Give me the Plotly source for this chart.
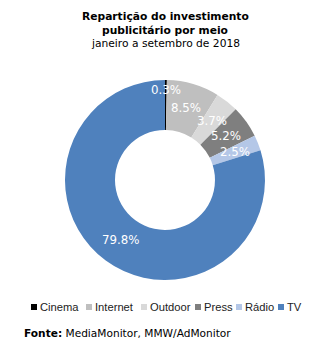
import math
import plotly.graph_objects as go

# Advertising investment share by medium, Jan-Sep 2018
media = ["Cinema", "Internet", "Outdoor", "Press", "Rádio", "TV"]
shares = [0.3, 8.5, 3.7, 5.2, 2.5, 79.8]
colors = ["#000000", "#bfbfbf", "#d9d9d9", "#7f7f7f", "#b4c7e7", "#4f81bd"]

W, H = 329, 355
# donut geometry in pixels
CX, CY, R_OUT, HOLE = 165, 180, 100, 0.5

fig = go.Figure()
fig.add_trace(go.Pie(
    labels=media,
    values=shares,
    marker=dict(colors=colors, line=dict(width=0)),
    hole=HOLE,
    sort=False,
    direction="clockwise",
    rotation=0,
    textinfo="none",
    showlegend=False,
    domain=dict(x=[(CX - R_OUT) / W, (CX + R_OUT) / W],
                y=[(H - CY - R_OUT) / H, (H - CY + R_OUT) / H]),
))

# value labels placed at the angular midpoint of each slice
total = sum(shares)
mid_r = R_OUT * (1 + HOLE) / 2
label_r = {"Cinema": R_OUT * 0.9}
cum = 0.0
annotations = []
for name, v in zip(media, shares):
    theta = 2 * math.pi * (cum + v / 2) / total
    cum += v
    r = label_r.get(name, mid_r)
    px = CX + r * math.sin(theta)
    py = CY - r * math.cos(theta)
    annotations.append(dict(
        x=px / W, y=1 - py / H, xref="paper", yref="paper",
        text=f"{v:.1f}%", showarrow=False,
        font=dict(family="DejaVu Sans", size=11.8, color="white"),
        xanchor="center", yanchor="middle",
    ))

# title block
title_lines = [
    ("<b>Repartição do investimento</b>", 16.5),
    ("<b>publicitário por meio</b>", 30.5),
    ("janeiro a setembro de 2018", 43.5),
]
for txt, ypx in title_lines:
    annotations.append(dict(
        x=165 / W, y=1 - ypx / H, xref="paper", yref="paper",
        text=txt, showarrow=False,
        font=dict(family="DejaVu Sans", size=10.7, color="black"),
        xanchor="center", yanchor="middle",
    ))

# custom legend row
legend_x = [31, 86, 141, 195, 236, 278]
legend_y = 307
shapes = []
for name, col, lx in zip(media, colors, legend_x):
    shapes.append(dict(
        type="rect", xref="paper", yref="paper",
        x0=lx / W, x1=(lx + 6) / W,
        y0=1 - (legend_y + 3) / H, y1=1 - (legend_y - 3) / H,
        fillcolor=col, line=dict(width=0),
    ))
    annotations.append(dict(
        x=(lx + 7) / W, y=1 - legend_y / H, xref="paper", yref="paper",
        text=name, showarrow=False,
        font=dict(family="Liberation Sans", size=11.2, color="#222222"),
        xanchor="left", yanchor="middle",
    ))

# source note
annotations.append(dict(
    x=22 / W, y=1 - 333 / H, xref="paper", yref="paper",
    text="<b>Fonte:</b> MediaMonitor, MMW/AdMonitor", showarrow=False,
    font=dict(family="DejaVu Sans", size=10.6, color="black"),
    xanchor="left", yanchor="middle",
))

fig.update_layout(
    width=W, height=H,
    margin=dict(l=0, r=0, t=0, b=0),
    paper_bgcolor="white", plot_bgcolor="white",
    annotations=annotations, shapes=shapes,
)

fig.write_html("out.html")
